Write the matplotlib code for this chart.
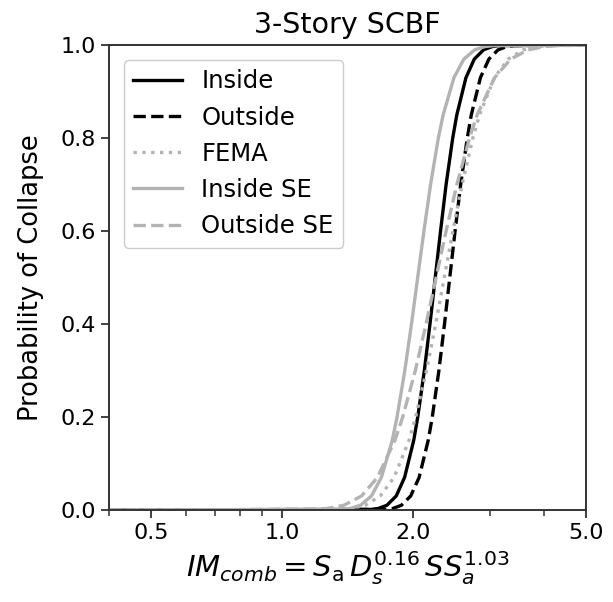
import matplotlib
matplotlib.use("Agg")
import matplotlib.pyplot as plt
from matplotlib.ticker import FixedLocator, FixedFormatter, NullFormatter

prob = [0.0, 0.001, 0.003, 0.01, 0.03, 0.07, 0.15, 0.2, 0.3, 0.4, 0.5,
        0.6, 0.7, 0.8, 0.85, 0.93, 0.97, 0.99, 0.997, 0.999, 1.0]

im_inside = [0.4, 1.602, 1.663, 1.742, 1.830, 1.913, 2.008, 2.051, 2.124, 2.188, 2.25,
             2.314, 2.383, 2.468, 2.522, 2.647, 2.767, 2.906, 3.044, 3.161, 5.0]
im_outside = [0.4, 1.730, 1.796, 1.881, 1.976, 2.066, 2.168, 2.215, 2.294, 2.363, 2.43,
              2.499, 2.574, 2.666, 2.723, 2.858, 2.989, 3.139, 3.288, 3.414, 5.0]
im_fema = [0.4, 1.353, 1.439, 1.553, 1.682, 1.809, 1.959, 2.028, 2.148, 2.255, 2.36,
           2.470, 2.593, 2.746, 2.844, 3.078, 3.311, 3.587, 3.870, 4.116, 5.0]
im_inside_se = [0.4, 1.372, 1.434, 1.515, 1.605, 1.692, 1.792, 1.838, 1.915, 1.984, 2.05,
                2.119, 2.195, 2.287, 2.346, 2.484, 2.618, 2.774, 2.930, 3.064, 5.0]
im_outside_se = [0.4, 1.181, 1.269, 1.387, 1.523, 1.657, 1.818, 1.894, 2.025, 2.143, 2.26,
                 2.383, 2.523, 2.697, 2.809, 3.081, 3.355, 3.683, 4.025, 4.324, 5.0]

xticks = [0.5, 1.0, 2.0, 5.0]
xtick_labels = ["0.5", "1.0", "2.0", "5.0"]
yticks = [0.0, 0.2, 0.4, 0.6, 0.8, 1.0]

fig = plt.figure(figsize=(6.13, 6.02), dpi=100)
ax = fig.add_subplot(1, 1, 1)
fig.subplots_adjust(left=0.178, right=0.956, top=0.925, bottom=0.153)

grey = "#b3b3b3"
ax.plot(im_inside, prob, color="black", ls="-", lw=2.4, label="Inside")
ax.plot(im_outside, prob, color="black", ls="--", lw=2.4, label="Outside")
ax.plot(im_fema, prob, color=grey, ls=":", lw=2.4, label="FEMA")
ax.plot(im_inside_se, prob, color=grey, ls="-", lw=2.4, label="Inside SE")
ax.plot(im_outside_se, prob, color=grey, ls="--", lw=2.4, label="Outside SE")

ax.set_xscale("log")
ax.set_xlim(0.4, 5.0)
ax.set_ylim(0, 1.0)
ax.xaxis.set_major_locator(FixedLocator(xticks))
ax.xaxis.set_major_formatter(FixedFormatter(xtick_labels))
ax.xaxis.set_minor_formatter(NullFormatter())
ax.set_yticks(yticks)
ax.set_yticklabels(["%.1f" % v for v in yticks])

ax.tick_params(axis="both", which="major", labelsize=16, length=6, width=1.3, color="#333333")
ax.tick_params(axis="x", which="minor", length=4, width=1.1, color="#333333")
for sp in ax.spines.values():
    sp.set_color("#333333")
    sp.set_linewidth(1.4)

ax.set_title("3-Story SCBF", fontsize=20.5, pad=9)
ax.set_ylabel("Probability of Collapse", fontsize=18.5, labelpad=12)
ax.set_xlabel(r"$IM_{comb} = S_\mathrm{a}\, D_s^{0.16}\, SS_a^{1.03}$", fontsize=21)

ax.legend(loc="upper left", fontsize=17.5, framealpha=1.0, borderaxespad=0.6)

fig.savefig("out.png", dpi=100)
